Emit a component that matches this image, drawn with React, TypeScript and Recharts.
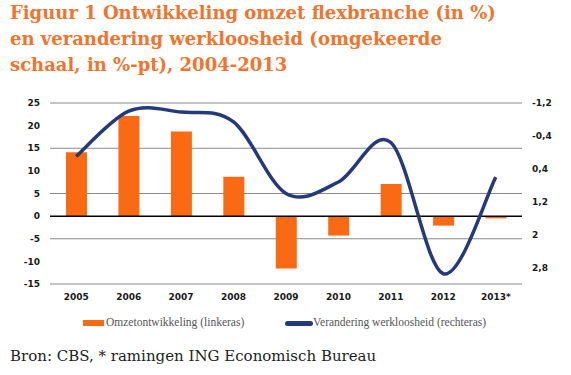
import React from 'react'
import { ComposedChart, Bar, Line, XAxis, YAxis, CartesianGrid, ReferenceLine } from 'recharts'

// jaren (2013 = raming)
const years = ['2005', '2006', '2007', '2008', '2009', '2010', '2011', '2012', '2013*']
// omzetontwikkeling flexbranche, % (linkeras)
const omzet = [14.1, 22.1, 18.7, 8.7, -11.6, -4.3, 7.1, -2.1, -0.5]
// verandering werkloosheid, %-pt (rechteras, omgekeerd)
const werkloosheid = [0.1, -1.0, -0.98, -0.74, 1.0, 0.72, -0.24, 2.95, 0.6]

const leftTicks = [-15, -10, -5, 0, 5, 10, 15, 20, 25]
const rightTicks = [-1.2, -0.4, 0.4, 1.2, 2, 2.8]

const data = years.map((y, i) => ({ jaar: y, omzet: omzet[i], wl: werkloosheid[i] }))

const ORANGE = '#fa6a12'
const NAVY = '#243a7a'
const TITLE = '#f2742c'

const tickStyle = { fontFamily: 'DejaVu Sans', fontWeight: 700, fontSize: 9, fill: '#1a1a1a' }

const fmtRight = (v: number) => String(Math.round(v * 10) / 10).replace('.', ',')

// excel-achtige gladde lijn (catmull-rom)
const smooth = (ctx: any) => {
  let pts: number[][] = []
  return {
    areaStart() {},
    areaEnd() {},
    lineStart() { pts = [] },
    point(x: number, y: number) { pts.push([+x, +y]) },
    lineEnd() {
      if (!pts.length) return
      ctx.moveTo(pts[0][0], pts[0][1])
      for (let i = 0; i < pts.length - 1; i++) {
        const p0 = pts[i - 1] || pts[i]
        const p1 = pts[i]
        const p2 = pts[i + 1]
        const p3 = pts[i + 2] || p2
        ctx.bezierCurveTo(
          p1[0] + (p2[0] - p0[0]) / 6, p1[1] + (p2[1] - p0[1]) / 6,
          p2[0] - (p3[0] - p1[0]) / 6, p2[1] - (p3[1] - p1[1]) / 6,
          p2[0], p2[1],
        )
      }
    },
  }
}

const App = () => {
  return (
    <div style={{ position: 'absolute', left: 0, top: 0, width: 571, height: 375, background: '#fff', overflow: 'hidden' }}>
      <ComposedChart
        width={571}
        height={340}
        data={data}
        margin={{ top: 103, right: 0, bottom: 26, left: 0 }}
      >
        <CartesianGrid yAxisId="left" vertical={false} stroke="#8a8a8a" strokeWidth={1} />
        <XAxis dataKey="jaar" axisLine={false} tickLine={false} tickSize={0} tickMargin={10} height={30} tick={tickStyle} interval={0} />
        <YAxis
          yAxisId="left"
          orientation="left"
          domain={[-15, 25]}
          ticks={leftTicks}
          width={50}
          axisLine={false}
          tickLine={false}
          tickSize={0}
          tickMargin={10}
          tick={tickStyle}
        />
        <YAxis
          yAxisId="right"
          orientation="right"
          domain={[-1.2, 3.2]}
          ticks={rightTicks}
          reversed
          width={49}
          axisLine={false}
          tickLine={false}
          tickSize={0}
          tickMargin={10}
          tick={tickStyle}
          tickFormatter={fmtRight}
        />
        <ReferenceLine yAxisId="left" y={0} stroke="#000" strokeWidth={1.5} />
        <Bar yAxisId="left" dataKey="omzet" fill={ORANGE} barSize={21} isAnimationActive={false} />
        <Line
          yAxisId="right"
          dataKey="wl"
          type={smooth as any}
          stroke={NAVY}
          strokeWidth={3.5}
          dot={false}
          activeDot={false}
          isAnimationActive={false}
        />
      </ComposedChart>

      <div
        style={{
          position: 'absolute',
          left: 10,
          top: 0,
          fontFamily: 'DejaVu Serif',
          fontWeight: 700,
          fontSize: 18,
          lineHeight: '26px',
          color: TITLE,
          whiteSpace: 'nowrap',
        }}
      >
        <div>Figuur 1 Ontwikkeling omzet flexbranche (in %)</div>
        <div>en verandering werkloosheid (omgekeerde</div>
        <div>schaal, in %-pt), 2004-2013</div>
      </div>

      <div style={{ position: 'absolute', top: 316, left: 0, width: 571, height: 14, fontFamily: 'Liberation Serif', fontSize: 11.5, color: '#555' }}>
        <div style={{ position: 'absolute', left: 83, top: 4, width: 21, height: 6, background: ORANGE }} />
        <div style={{ position: 'absolute', left: 106, top: 0, whiteSpace: 'nowrap' }}>Omzetontwikkeling (linkeras)</div>
        <div style={{ position: 'absolute', left: 285, top: 5, width: 28, height: 5, borderRadius: 3, background: NAVY }} />
        <div style={{ position: 'absolute', left: 313, top: 0, whiteSpace: 'nowrap' }}>Verandering werkloosheid (rechteras)</div>
      </div>

      <div style={{ position: 'absolute', left: 10, top: 347, fontFamily: 'DejaVu Serif', fontSize: 15, color: '#222', whiteSpace: 'nowrap' }}>
        Bron: CBS, * ramingen ING Economisch Bureau
      </div>
    </div>
  )
}

export default App
